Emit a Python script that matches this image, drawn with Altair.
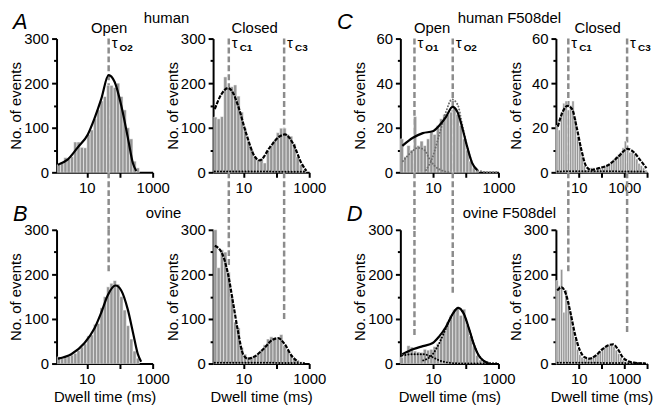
import altair as alt
import pandas as pd

FONT = "Liberation Sans"

# logarithmic bin edges (10 bins per decade), ms
EDGES = [1.0, 1.259, 1.585, 1.995, 2.512, 3.162, 3.981, 5.012, 6.31, 7.943,
         10.0, 12.59, 15.85, 19.95, 25.12, 31.62, 39.81, 50.12, 63.1, 79.43,
         100.0, 125.9, 158.5, 199.5, 251.2, 316.2, 398.1, 501.2, 631.0, 794.3,
         1000.0, 1259.0, 1585.0, 1995.0, 2512.0, 3162.0, 3981.0, 5012.0, 6310.0, 7943.0,
         10000.0]

# ---- A: human, open ----
A_OPEN_START = 1
A_OPEN_COUNTS = [17, 20, 33, 30, 35, 68, 68, 56, 55, 85, 95, 120, 140, 160, 170,
                 195, 195, 190, 200, 170, 140, 100, 75, 25, 10]
A_OPEN_FIT_T = [1.32, 2.65, 5.3, 10.7, 17.1, 27.3, 45.7, 69.6, 111, 176, 250, 318]
A_OPEN_FIT_N = [17, 29, 56, 85, 121, 164, 218, 203, 150, 78, 21, 3]
# ---- A: human, closed ----
A_CLOSED_START = 1
A_CLOSED_COUNTS = [124, 120, 125, 214, 190, 192, 196, 171, 135, 99, 70, 50, 35, 28, 31,
                   21, 49, 60, 71, 89, 99, 99, 85, 81, 64, 35, 17, 6]
A_CLOSED_FIT_T = [1.35, 2.14, 3.43, 4.86, 6.9, 12.4, 22.2, 31.7, 63.6, 128, 182, 325, 577, 822]
A_CLOSED_FIT_N = [142, 175, 189, 178, 149, 85, 35, 27, 56, 81, 85, 64, 21, 3]
A_CLOSED_C2_T = [1.35, 10, 100, 822]
A_CLOSED_C2_N = [2, 2, 1.5, 1]
# ---- B: ovine, open ----
B_OPEN_START = 1
B_OPEN_COUNTS = [15, 11, 13, 16, 19, 23, 29, 37, 44, 62, 64, 88, 90, 125, 150,
                 172, 180, 186, 178, 150, 120, 85, 55, 28, 12]
B_OPEN_FIT_T = [1.32, 3.35, 8.5, 17.1, 27.3, 43.6, 74.5, 111, 176, 250, 355, 447]
B_OPEN_FIT_N = [11, 21, 46, 79, 114, 154, 175, 164, 121, 71, 21, 4]
# ---- B: ovine, closed ----
B_CLOSED_START = 1
B_CLOSED_COUNTS = [300, 215, 255, 250, 205, 150, 93, 80, 36, 21, 14, 15, 18, 22, 30,
                   42, 55, 60, 58, 55, 65, 40, 30, 18, 11, 7, 4]
B_CLOSED_FIT_T = [1.35, 2.15, 3.43, 4.86, 6.9, 9.8, 13.9, 22.2, 39.8, 79.6, 113, 182, 288, 457]
B_CLOSED_FIT_N = [264, 250, 200, 136, 71, 21, 11, 16, 32, 54, 57, 43, 18, 4]
B_CLOSED_C2_T = [1.35, 10, 100, 822]
B_CLOSED_C2_N = [2, 2, 1.5, 1]
# ---- C: human F508del, open ----
C_OPEN_START = 0
C_OPEN_COUNTS = [15, 7, 12, 10, 25, 12, 14, 12, 15, 18, 17, 21, 24, 26, 26, 27, 29, 26,
                 21, 15, 10, 5, 2, 1]
C_OPEN_FIT_T = [1.15, 2.42, 4.86, 9.8, 15.5, 24.7, 39.5, 56, 79, 112, 159, 227]
C_OPEN_FIT_N = [11.9, 15.5, 17.6, 18.4, 21, 24.8, 29.4, 27, 19.8, 11.2, 4, 1]
C_OPEN_C1_T = [1.2, 2.15, 3.43, 5.46, 7.75, 11, 17.5, 31]
C_OPEN_C1_N = [5, 9, 11, 10, 6, 3, 1, 0]
C_OPEN_C2_T = [6.1, 9.8, 15.5, 24.7, 37.7, 56, 79, 112, 159, 227, 500, 900]
C_OPEN_C2_N = [1, 7, 17, 27, 32.7, 30.5, 21, 11.2, 4, 1, 0, 0]
# ---- C: human F508del, closed ----
C_CLOSED_START = 0
C_CLOSED_COUNTS = [21, 19, 27, 31, 32, 28, 30, 32, 24, 16, 13, 7, 3, 1, 0, 2, 2, 1, 2, 2,
                   2, 3, 3, 4, 5, 6, 7, 8, 9, 11, 14, 10, 9, 9, 8, 6, 4, 3, 2, 1]
C_CLOSED_FIT_T = [1.21, 1.96, 3.16, 5.1, 8.3, 13.3, 21.5, 34.8, 77, 202, 530, 1380, 2630, 5000, 9400]
C_CLOSED_FIT_N = [20.5, 27, 29.8, 28.4, 19.8, 9.8, 2.6, 1.1, 1.9, 3.3, 6.9, 10.5, 9, 5.5, 1.9]
C_CLOSED_C2_T = [1.2, 10, 100, 1000, 9400]
C_CLOSED_C2_N = [0.4, 0.5, 0.5, 0.4, 0.3]
# ---- D: ovine F508del, open ----
D_OPEN_START = 0
D_OPEN_COUNTS = [14, 21, 40, 37, 28, 26, 25, 32, 30, 32, 38, 45, 60, 78, 93, 108, 121,
                 125, 108, 122, 88, 62, 38, 18, 8, 4]
D_OPEN_FIT_T = [1.15, 2.42, 4.86, 9.8, 15.5, 24.7, 39.5, 59, 88, 125, 177, 250, 355, 500]
D_OPEN_FIT_N = [21, 32, 39, 46, 61, 82, 111, 125, 111, 79, 43, 18, 6, 1]
D_OPEN_C1_T = [1.15, 2.42, 4.86, 9.8, 15.5, 24.7, 39.5, 100, 900]
D_OPEN_C1_N = [18, 21, 21, 14, 7, 3, 1, 0, 0]
D_OPEN_C2_T = [5, 9.8, 15.5, 24.7, 39.5, 59, 88, 125, 177, 250, 355, 500, 900]
D_OPEN_C2_N = [7, 21, 46, 79, 111, 125, 111, 79, 43, 18, 6, 1, 0]
# ---- D: ovine F508del, closed ----
D_CLOSED_START = 0
D_CLOSED_COUNTS = [186, 175, 211, 115, 165, 140, 110, 80, 55, 32, 20, 14, 11, 12, 12, 14,
                   17, 19, 23, 28, 33, 37, 40, 42, 41, 38, 30, 22, 14, 8, 4, 3, 2, 2, 2,
                   1, 1, 1, 1, 1]
D_CLOSED_FIT_T = [1.14, 1.78, 2.7, 4.36, 7.0, 11.4, 18.4, 29.6, 56, 107, 200, 325, 530, 850,
                  1380, 2630, 9000]
D_CLOSED_FIT_N = [164, 171, 157, 114, 64, 29, 14, 11, 18, 32, 41, 43, 32, 14, 6, 2, 0]
D_CLOSED_C2_T = [1.2, 10, 100, 1000, 9000]
D_CLOSED_C2_N = [2, 2, 1.5, 1, 0.5]

# time constants (ms) and where the dashed markers stop in the lower row
TAU_OPEN_WT = [46]
TAU_OPEN_WT_SUB = ["O2"]
TAU_CLOSED_WT = [3.6, 173]
TAU_CLOSED_WT_SUB = ["C1", "C3"]
TAU_OPEN_DF = [2.7, 40]
TAU_OPEN_DF_SUB = ["O1", "O2"]
TAU_CLOSED_DF = [3.5, 1330]
TAU_CLOSED_DF_SUB = ["C1", "C3"]
B_OPEN_RULE_END = [207]
B_CLOSED_RULE_END = [221, 100]
D_OPEN_RULE_END = [64, 159]
D_CLOSED_RULE_END = [207, 71]

H = 135
GAP = 58
DUMMY = pd.DataFrame({"d": [0]})
BAR_FILL = "#969696"
RULE_COLOR = "#8c8c8c"


def panel(counts, start, fit_t, fit_n, dom, width, ymax, ystep, ylab, xticks,
          closed, taus, subs, ends, comps, bottom, notes):
    xs = alt.Scale(type="log", domain=dom, nice=False)
    ys = alt.Scale(domain=[0, ymax], nice=False)
    xaxis_kw = dict(values=xticks,
                    labelExpr="datum.value == 10 || datum.value == 1000 ? format(datum.value, 'd') : ''",
                    tickSize=5, labelPadding=3, labelFlush=False, labelOverlap=False)
    if bottom:
        xaxis = alt.Axis(title="Dwell time (ms)", titlePadding=3, **xaxis_kw)
    else:
        xaxis = alt.Axis(title=None, **xaxis_kw)
    yaxis = alt.Axis(values=list(range(0, ymax + 1, ystep)),
                     labelExpr=f"datum.value % {ylab} == 0 ? datum.label : ''",
                     tickSize={"condition": {"test": f"datum.value % {ylab} == 0", "value": 5}, "value": 3},
                     labelPadding=3, title="No. of events", titlePadding=0,
                     minExtent=33, maxExtent=33, labelFlush=False, labelOverlap=False)

    def X(f):
        return alt.X(f, scale=xs, axis=xaxis)

    def Y(f):
        return alt.Y(f, scale=ys, axis=yaxis)

    layers = []
    rdf = pd.DataFrame({"t": taus, "sub": subs})
    if ends is None:
        layers.append(alt.Chart(rdf).mark_rule(color=RULE_COLOR, strokeWidth=2.5, strokeDash=[6, 3])
                      .encode(x=X("t:Q"), y=alt.value(0), y2=alt.value(H + GAP)))
    else:
        rdf["end"] = ends
        layers.append(alt.Chart(rdf).mark_rule(color=RULE_COLOR, strokeWidth=2.5, strokeDash=[6, 3])
                      .encode(x=X("t:Q"), y=Y("end:Q"), y2=alt.value(0)))

    n = len(counts)
    bars = pd.DataFrame({"lo": EDGES[start:start + n], "hi": EDGES[start + 1:start + n + 1],
                         "n": counts, "z": [0] * n})
    layers.append(alt.Chart(bars).mark_bar(fill=BAR_FILL, stroke="white", strokeWidth=0.5)
                  .encode(x=X("lo:Q"), x2="hi:Q", y=Y("n:Q"), y2="z:Q"))

    for ct, cn, color in comps:
        cdf = pd.DataFrame({"t": ct, "n": cn})
        layers.append(alt.Chart(cdf).mark_line(color=color, strokeWidth=2, strokeDash=[0.1, 3],
                                               strokeCap="round", interpolate="monotone")
                      .encode(x=X("t:Q"), y=Y("n:Q")))

    fdf = pd.DataFrame({"t": fit_t, "n": fit_n})
    line_kw = dict(color="black", strokeWidth=2.2, interpolate="monotone")
    if closed:
        line_kw["strokeDash"] = [4, 1.3]
    layers.append(alt.Chart(fdf).mark_line(**line_kw).encode(x=X("t:Q"), y=Y("n:Q")))

    if ends is None:
        layers.append(alt.Chart(rdf).mark_text(align="left", baseline="alphabetic", dx=3,
                                               fontSize=15, font=FONT, color="black")
                      .encode(x=X("t:Q"), y=alt.value(10), text=alt.value("τ")))
        layers.append(alt.Chart(rdf).mark_text(align="left", baseline="alphabetic", dx=11,
                                               fontSize=10, fontWeight="bold", font=FONT, color="black")
                      .encode(x=X("t:Q"), y=alt.value(13), text="sub:N"))

    for txt, px, py, size, italic, align in notes:
        kw = dict(fontSize=size, font=FONT, align=align, baseline="alphabetic", color="black")
        if italic:
            kw["fontStyle"] = "italic"
        layers.append(alt.Chart(DUMMY).mark_text(**kw)
                      .encode(x=alt.value(px), y=alt.value(py), text=alt.value(txt)))

    return alt.layer(*layers).properties(width=width, height=H)


def spacer(w):
    return alt.Chart(DUMMY).mark_point(opacity=0).encode(
        x=alt.value(0), y=alt.value(0)).properties(width=w, height=H)


DOM_WT = [1.2, 1000]
DOM_DF_O = [1, 1000]
DOM_DF_C = [1, 10000]
BLACK = "black"
GREY = "#6e6e6e"

a_open = panel(A_OPEN_COUNTS, A_OPEN_START, A_OPEN_FIT_T, A_OPEN_FIT_N, DOM_WT, 97, 300, 50, 100,
               [10, 100, 1000], False, TAU_OPEN_WT, TAU_OPEN_WT_SUB, None, [], False,
               [("A", -44, -10, 22, True, "left"), ("human", 111, -16, 15, False, "center"),
                ("Open", 53, -6, 15, False, "center")])
a_closed = panel(A_CLOSED_COUNTS, A_CLOSED_START, A_CLOSED_FIT_T, A_CLOSED_FIT_N, DOM_WT, 97, 300, 50, 100,
                 [10, 100, 1000], True, TAU_CLOSED_WT, TAU_CLOSED_WT_SUB, None,
                 [(A_CLOSED_C2_T, A_CLOSED_C2_N, BLACK)], False,
                 [("Closed", 42, -6, 15, False, "center")])
c_open = panel(C_OPEN_COUNTS, C_OPEN_START, C_OPEN_FIT_T, C_OPEN_FIT_N, DOM_DF_O, 99, 60, 10, 20,
               [10, 100, 1000], False, TAU_OPEN_DF, TAU_OPEN_DF_SUB, None,
               [(C_OPEN_C1_T, C_OPEN_C1_N, GREY), (C_OPEN_C2_T, C_OPEN_C2_N, GREY)], False,
               [("C", -64, -10, 22, True, "left"), ("human F508del", 110, -16, 15, False, "center"),
                ("Open", 32, -6, 15, False, "center")])
c_closed = panel(C_CLOSED_COUNTS, C_CLOSED_START, C_CLOSED_FIT_T, C_CLOSED_FIT_N, DOM_DF_C, 92, 60, 10, 20,
                 [10, 100, 1000, 10000], True, TAU_CLOSED_DF, TAU_CLOSED_DF_SUB, None,
                 [(C_CLOSED_C2_T, C_CLOSED_C2_N, BLACK)], False,
                 [("Closed", 42, -6, 15, False, "center")])
b_open = panel(B_OPEN_COUNTS, B_OPEN_START, B_OPEN_FIT_T, B_OPEN_FIT_N, DOM_WT, 97, 300, 50, 100,
               [10, 100, 1000], False, TAU_OPEN_WT, TAU_OPEN_WT_SUB, B_OPEN_RULE_END, [], True,
               [("B", -44, -9, 22, True, "left"), ("ovine", 108, -12, 15, False, "center")])
b_closed = panel(B_CLOSED_COUNTS, B_CLOSED_START, B_CLOSED_FIT_T, B_CLOSED_FIT_N, DOM_WT, 97, 300, 50, 100,
                 [10, 100, 1000], True, TAU_CLOSED_WT, TAU_CLOSED_WT_SUB, B_CLOSED_RULE_END,
                 [(B_CLOSED_C2_T, B_CLOSED_C2_N, BLACK)], True, [])
d_open = panel(D_OPEN_COUNTS, D_OPEN_START, D_OPEN_FIT_T, D_OPEN_FIT_N, DOM_DF_O, 99, 300, 50, 100,
               [10, 100, 1000], False, TAU_OPEN_DF, TAU_OPEN_DF_SUB, D_OPEN_RULE_END,
               [(D_OPEN_C1_T, D_OPEN_C1_N, BLACK), (D_OPEN_C2_T, D_OPEN_C2_N, BLACK)], True,
               [("D", -54, -9, 22, True, "left"), ("ovine F508del", 110, -12, 15, False, "center")])
d_closed = panel(D_CLOSED_COUNTS, D_CLOSED_START, D_CLOSED_FIT_T, D_CLOSED_FIT_N, DOM_DF_C, 92, 300, 50, 100,
                 [10, 100, 1000, 10000], True, TAU_CLOSED_DF, TAU_CLOSED_DF_SUB, D_CLOSED_RULE_END,
                 [(D_CLOSED_C2_T, D_CLOSED_C2_N, BLACK)], True, [])

chart = alt.concat(
    a_open, spacer(61), a_closed, spacer(92), c_open, spacer(58), c_closed,
    b_open, spacer(61), b_closed, spacer(92), d_open, spacer(58), d_closed,
    columns=7, spacing={"row": GAP, "column": 0}, bounds="flush",
).properties(padding=0).configure_view(stroke="transparent").configure_axis(
    grid=False, domainColor="black", domainWidth=2, tickColor="black", tickWidth=2,
    labelFont=FONT, titleFont=FONT, labelFontSize=15, titleFontSize=15,
    titleFontWeight="normal", labelColor="black", titleColor="black",
)

chart.save("out.html", embed_options={"renderer": "svg", "actions": False})
